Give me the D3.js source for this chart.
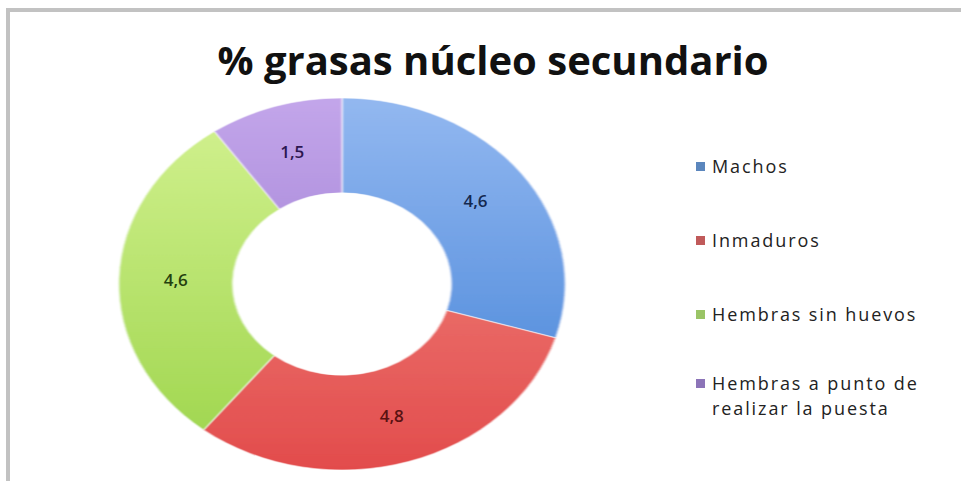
<!DOCTYPE html>
<html>
<head>
<meta charset="utf-8">
<script src="https://cdn.jsdelivr.net/npm/d3@7/dist/d3.min.js"></script>
<style>
  html, body { margin: 0; padding: 0; background: #ffffff; }
  svg { display: block; }
</style>
</head>
<body>
<svg id="chart" width="961" height="481"></svg>
<script>
// Data
const categories = ["Machos", "Inmaduros", "Hembras sin huevos", "Hembras a punto de realizar la puesta"];
const values = [4.6, 4.8, 4.6, 1.5];
const valueLabels = ["4,6", "4,8", "4,6", "1,5"];
const legendLines = [["Machos"], ["Inmaduros"], ["Hembras sin huevos"], ["Hembras a punto de", "realizar la puesta"]];
const titleText = "% grasas núcleo secundario";

// Styles
const colorTop = ["#93b8f0", "#f29088", "#d4f292", "#c3a6ea"];
const colorBottom = ["#3f80d6", "#e24c4c", "#9cd44a", "#8e6cc8"];
const legendColor = ["#5b86bd", "#c05a5a", "#9ac466", "#8c74b8"];
const labelColor = ["#142850", "#5a1212", "#24400e", "#2c1650"];

const svg = d3.select("#chart");
const W = 961, H = 481;

// Frame lines (top and left)
svg.append("rect").attr("x", 6).attr("y", 8).attr("width", W - 6).attr("height", 4).attr("fill", "#c2c2c2");
svg.append("rect").attr("x", 6).attr("y", 8).attr("width", 4).attr("height", H - 8).attr("fill", "#c2c2c2");

// Title
svg.append("text")
  .attr("x", 493).attr("y", 75)
  .attr("text-anchor", "middle")
  .attr("font-family", "'Open Sans', sans-serif")
  .attr("font-weight", "bold")
  .attr("font-size", 40)
  .attr("fill", "#111")
  .text(titleText);

// Donut geometry
const cx = 342, cy = 284;
const R = 186, sx = 1.2;
const innerFrac = 0.49;

const pie = d3.pie().sort(null).value(d => d).startAngle(0).endAngle(2 * Math.PI);
const arcs = pie(values);
const arc = d3.arc().outerRadius(R).innerRadius(R * innerFrac);

const defs = svg.append("defs");
values.forEach((v, i) => {
  const g = defs.append("linearGradient")
    .attr("id", "grad" + i)
    .attr("gradientUnits", "userSpaceOnUse")
    .attr("x1", 0).attr("y1", -R).attr("x2", 0).attr("y2", R);
  g.append("stop").attr("offset", "0%").attr("stop-color", colorTop[i]);
  g.append("stop").attr("offset", "100%").attr("stop-color", colorBottom[i]);
});
defs.append("filter").attr("id", "soft")
  .append("feGaussianBlur").attr("stdDeviation", 0.7);

const donut = svg.append("g")
  .attr("transform", `translate(${cx},${cy}) scale(${sx},1)`);

donut.selectAll("path.slice")
  .data(arcs)
  .join("path")
  .attr("class", "slice")
  .attr("d", arc)
  .attr("fill", (d, i) => `url(#grad${i})`)
  .attr("stroke", "#ffffff")
  .attr("stroke-opacity", 0.6)
  .attr("stroke-width", 1)
  .attr("vector-effect", "non-scaling-stroke")
  .attr("filter", "url(#soft)");

// Value labels at ring centroids
svg.selectAll("text.value")
  .data(arcs)
  .join("text")
  .attr("class", "value")
  .attr("x", d => cx + arc.centroid(d)[0] * sx)
  .attr("y", d => cy + arc.centroid(d)[1])
  .attr("dy", "0.35em")
  .attr("text-anchor", "middle")
  .attr("font-family", "'Open Sans', sans-serif")
  .attr("font-weight", 600)
  .attr("font-size", 17)
  .attr("fill", (d, i) => labelColor[i])
  .text((d, i) => valueLabels[i]);

// Legend: one text element per line
const legendX = 696, legendY = [167, 241, 315, 384], lineH = 25;
const legend = svg.append("g");
categories.forEach((c, i) => {
  legend.append("rect")
    .attr("x", legendX).attr("y", legendY[i] - 5)
    .attr("width", 9).attr("height", 9)
    .attr("fill", legendColor[i]);
  legendLines[i].forEach((ln, k) => {
    legend.append("text")
      .attr("x", legendX + 16).attr("y", legendY[i] + k * lineH)
      .attr("dy", "0.35em")
      .attr("font-family", "'Open Sans', sans-serif")
      .attr("font-size", 18)
      .attr("letter-spacing", 1.9)
      .attr("fill", "#222")
      .text(ln);
  });
});
</script>
</body>
</html>
